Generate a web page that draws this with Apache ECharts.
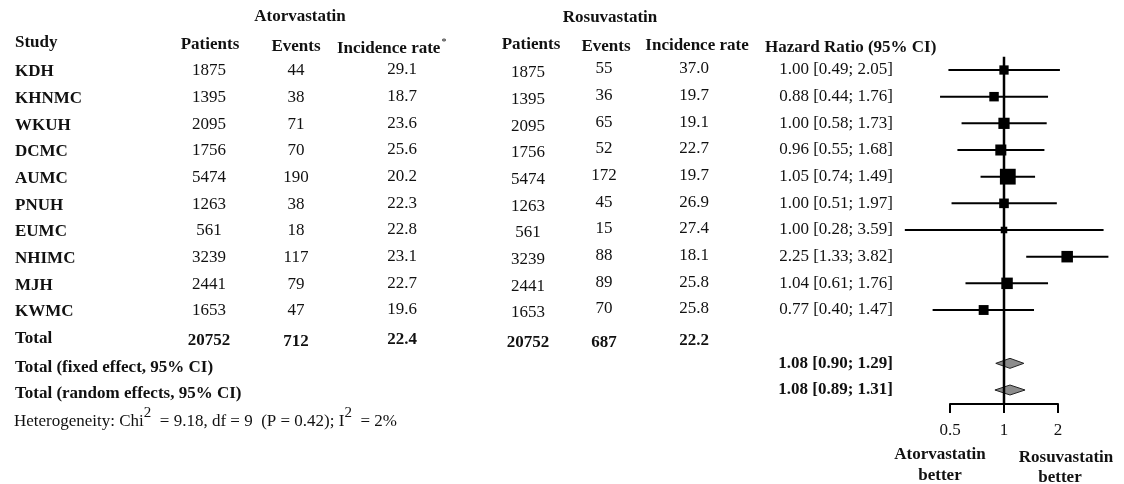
<!DOCTYPE html>
<html>
<head>
<meta charset="utf-8">
<script src="https://cdn.jsdelivr.net/npm/echarts@6/dist/echarts.min.js"></script>
<style>
  html, body { margin: 0; padding: 0; background: #fff; }
  #chart { width: 1124px; height: 484px; }
</style>
</head>
<body>
<div id="chart"></div>
<script>
// ---- data ----
const studies = ['KDH', 'KHNMC', 'WKUH', 'DCMC', 'AUMC', 'PNUH', 'EUMC', 'NHIMC', 'MJH', 'KWMC'];
const atorPatients = [1875, 1395, 2095, 1756, 5474, 1263, 561, 3239, 2441, 1653];
const atorEvents = [44, 38, 71, 70, 190, 38, 18, 117, 79, 47];
const atorRate = ['29.1', '18.7', '23.6', '25.6', '20.2', '22.3', '22.8', '23.1', '22.7', '19.6'];
const rosuPatients = [1875, 1395, 2095, 1756, 5474, 1263, 561, 3239, 2441, 1653];
const rosuEvents = [55, 36, 65, 52, 172, 45, 15, 88, 89, 70];
const rosuRate = ['37.0', '19.7', '19.1', '22.7', '19.7', '26.9', '27.4', '18.1', '25.8', '25.8'];
const hrPoint = [1.00, 0.88, 1.00, 0.96, 1.05, 1.00, 1.00, 2.25, 1.04, 0.77];
const hrLower = [0.49, 0.44, 0.58, 0.55, 0.74, 0.51, 0.28, 1.33, 0.61, 0.40];
const hrUpper = [2.05, 1.76, 1.73, 1.68, 1.49, 1.97, 3.59, 3.82, 1.76, 1.47];
const studyWeight = [6.3, 6.7, 10.8, 10.3, 26.2, 7.0, 2.0, 11.6, 11.5, 7.6]; // % weight
const atorTotal = [20752, 712, '22.4'];
const rosuTotal = [20752, 687, '22.2'];
const pooledLabels = ['Total (fixed effect, 95% CI)', 'Total (random effects, 95% CI)'];
const pooledPoint = [1.08, 1.08];
const pooledLower = [0.90, 0.89];
const pooledUpper = [1.29, 1.31];
const axisTicks = [0.5, 1, 2];

// ---- layout ----
const FONT = '"Liberation Serif", "Times New Roman", serif';
const INK = '#111';
const SIZE = 17;
const fontOf = (bold) => (bold ? 'bold ' : '') + SIZE + 'px ' + FONT;
const TOTAL_ROW = studies.length;        // row 10
const POOLED_ROW0 = studies.length + 1;  // rows 11, 12

const cols = {
  study: { x: 15, align: 'left', dy: 2 },
  aP: { x: 209, align: 'center', dy: 1 },
  aE: { x: 296, align: 'center', dy: 1 },
  aR: { x: 402, align: 'center', dy: 0 },
  rP: { x: 528, align: 'center', dy: 3 },
  rE: { x: 604, align: 'center', dy: -1 },
  rR: { x: 694, align: 'center', dy: -1 },
  hr: { x: 893, align: 'right', dy: 0 }
};

const fmt = (v) => v.toFixed(2);
const hrText = (p, l, u) => fmt(p) + ' [' + fmt(l) + '; ' + fmt(u) + ']';

function txt(col, y, text, bold) {
  return {
    type: 'text',
    x: col.x,
    y: y + col.dy,
    silent: true,
    style: { text: String(text), font: fontOf(bold), fill: INK, align: col.align, verticalAlign: 'middle' }
  };
}

function label(x, y, text, bold, align) {
  return {
    type: 'text', x, y, silent: true,
    style: { text, font: fontOf(bold), fill: INK, align: align || 'center', verticalAlign: 'middle' }
  };
}

const chart = echarts.init(document.getElementById('chart'), null, { renderer: 'canvas' });

const rowRange = { min: -0.5, max: 12.5 };

const option = {
  animation: false,
  backgroundColor: '#fff',
  grid: [
    // forest plot area: log2 scale from 0.25 to 4
    { left: 896, width: 216, top: 56.67, height: 346.67 },
    // visible axis from 0.5 to 2
    { left: 950, width: 108, top: 380, height: 24 }
  ],
  xAxis: [
    { gridIndex: 0, type: 'log', logBase: 2, min: 0.25, max: 4, show: false },
    {
      gridIndex: 1, type: 'log', logBase: 2, min: axisTicks[0], max: axisTicks[axisTicks.length - 1],
      splitNumber: 2,
      axisLine: { show: true, lineStyle: { color: '#000', width: 2 } },
      axisTick: { show: true, length: 9, lineStyle: { color: '#000', width: 2 } },
      axisLabel: {
        margin: 18, color: INK, fontFamily: FONT, fontSize: SIZE,
        formatter: (v) => String(+v.toFixed(2))
      },
      splitLine: { show: false }
    }
  ],
  yAxis: [
    { gridIndex: 0, type: 'value', inverse: true, min: rowRange.min, max: rowRange.max, show: false },
    { gridIndex: 1, type: 'value', show: false, min: 0, max: 1 }
  ],
  series: [
    // line of no effect
    {
      type: 'line', xAxisIndex: 0, yAxisIndex: 0, symbol: 'none', silent: true,
      lineStyle: { color: '#000', width: 2.5 },
      data: [[1, rowRange.min], [1, rowRange.max]]
    },
    // study estimates with confidence intervals
    {
      type: 'custom', xAxisIndex: 0, yAxisIndex: 0, clip: false, silent: true,
      data: studies.map((s, i) => [hrLower[i], hrUpper[i], hrPoint[i], i, studyWeight[i]]),
      encode: { x: [0, 1, 2], y: 3 },
      renderItem: (params, api) => {
        const row = api.value(3);
        const lo = api.coord([api.value(0), row]);
        const hi = api.coord([api.value(1), row]);
        const pt = api.coord([api.value(2), row]);
        const s = 3 + 2.5 * Math.sqrt(api.value(4));
        return {
          type: 'group',
          children: [
            { type: 'line', shape: { x1: lo[0], y1: lo[1], x2: hi[0], y2: hi[1] }, style: { stroke: '#000', lineWidth: 2 } },
            { type: 'rect', shape: { x: pt[0] - s / 2, y: pt[1] - s / 2, width: s, height: s }, style: { fill: '#000' } }
          ]
        };
      }
    },
    // pooled estimates (diamonds)
    {
      type: 'custom', xAxisIndex: 0, yAxisIndex: 0, clip: false, silent: true,
      data: pooledPoint.map((p, i) => [pooledLower[i], pooledUpper[i], p, POOLED_ROW0 + i]),
      encode: { x: [0, 1, 2], y: 3 },
      renderItem: (params, api) => {
        const row = api.value(3);
        const lo = api.coord([api.value(0), row]);
        const hi = api.coord([api.value(1), row]);
        const pt = api.coord([api.value(2), row]);
        const h = 5;
        return {
          type: 'polygon',
          shape: { points: [[lo[0], lo[1]], [pt[0], pt[1] - h], [hi[0], hi[1]], [pt[0], pt[1] + h]] },
          style: { fill: '#8c8c8c', stroke: '#222', lineWidth: 1 }
        };
      }
    },
    // study table rows
    {
      type: 'custom', xAxisIndex: 0, yAxisIndex: 0, clip: false, silent: true,
      data: studies.map((s, i) => [1, i]),
      encode: { x: 0, y: 1 },
      renderItem: (params, api) => {
        const i = params.dataIndex;
        const y = api.coord([1, api.value(1)])[1];
        return {
          type: 'group',
          children: [
            txt(cols.study, y, studies[i], true),
            txt(cols.aP, y, atorPatients[i], false),
            txt(cols.aE, y, atorEvents[i], false),
            txt(cols.aR, y, atorRate[i], false),
            txt(cols.rP, y, rosuPatients[i], false),
            txt(cols.rE, y, rosuEvents[i], false),
            txt(cols.rR, y, rosuRate[i], false),
            txt(cols.hr, y, hrText(hrPoint[i], hrLower[i], hrUpper[i]), false)
          ]
        };
      }
    },
    // totals row
    {
      type: 'custom', xAxisIndex: 0, yAxisIndex: 0, clip: false, silent: true,
      data: [[1, TOTAL_ROW]],
      encode: { x: 0, y: 1 },
      renderItem: (params, api) => {
        const y = api.coord([1, api.value(1)])[1];
        return {
          type: 'group',
          children: [
            txt(cols.study, y, 'Total', true),
            txt(cols.aP, y + 3, atorTotal[0], true),
            txt(cols.aE, y + 4, atorTotal[1], true),
            txt(cols.aR, y + 3, atorTotal[2], true),
            txt(cols.rP, y + 3, rosuTotal[0], true),
            txt(cols.rE, y + 7, rosuTotal[1], true),
            txt(cols.rR, y + 5, rosuTotal[2], true)
          ]
        };
      }
    },
    // pooled rows text
    {
      type: 'custom', xAxisIndex: 0, yAxisIndex: 0, clip: false, silent: true,
      data: pooledPoint.map((p, i) => [1, POOLED_ROW0 + i]),
      encode: { x: 0, y: 1 },
      renderItem: (params, api) => {
        const i = params.dataIndex;
        const y = api.coord([1, api.value(1)])[1];
        return {
          type: 'group',
          children: [
            txt(cols.study, y + 2, pooledLabels[i], true),
            txt(cols.hr, y, hrText(pooledPoint[i], pooledLower[i], pooledUpper[i]), true)
          ]
        };
      }
    },
    // empty series so the axis grid is registered
    { type: 'line', xAxisIndex: 1, yAxisIndex: 1, data: [], silent: true }
  ],
  graphic: [
    label(300, 17, 'Atorvastatin', true),
    label(610, 18, 'Rosuvastatin', true),
    label(15, 43, 'Study', true, 'left'),
    label(210, 45, 'Patients', true),
    label(296, 47, 'Events', true),
    {
      type: 'text', x: 337, y: 46, silent: true,
      style: {
        text: '{b|Incidence rate}{s|*}',
        fill: INK, align: 'left', verticalAlign: 'middle',
        rich: {
          b: { font: fontOf(true), fill: INK, lineHeight: 22, verticalAlign: 'bottom' },
          s: { font: '10px ' + FONT, fill: INK, lineHeight: 22, verticalAlign: 'top', padding: [2, 0, 0, 1] }
        }
      }
    },
    label(531, 45, 'Patients', true),
    label(606, 47, 'Events', true),
    label(697, 46, 'Incidence rate', true),
    label(765, 48, 'Hazard Ratio (95% CI)', true, 'left'),
    {
      type: 'text', x: 14, y: 418, silent: true,
      style: {
        text: '{n|Heterogeneity: Chi}{s|2}{n|  = 9.18, df = 9  (P = 0.42); I}{s|2}{n|  = 2%}',
        fill: INK, align: 'left', verticalAlign: 'middle',
        rich: {
          n: { font: fontOf(false), fill: INK, lineHeight: 24, verticalAlign: 'bottom' },
          s: { font: '15px ' + FONT, fill: INK, lineHeight: 24, verticalAlign: 'top' }
        }
      }
    },
    label(940, 455, 'Atorvastatin', true),
    label(940, 476, 'better', true),
    label(1066, 458, 'Rosuvastatin', true),
    label(1060, 478, 'better', true)
  ]
};

chart.setOption(option);
</script>
</body>
</html>
